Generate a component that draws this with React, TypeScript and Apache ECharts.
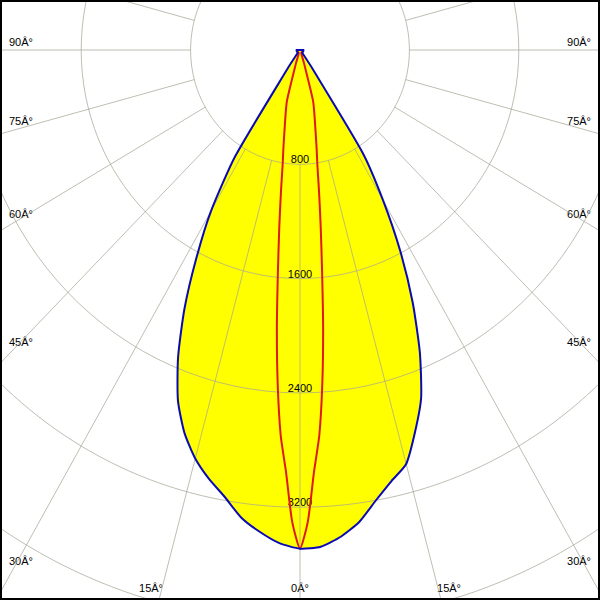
import React, { useEffect, useRef } from "react";
import * as echarts from "echarts";

// ---- data ----
// C0 / C180 plane (yellow area, blue outline), gamma in degrees (0 = straight down)
const gammaC = [0, 2.5, 5, 7.5, 10, 12.5, 15, 17.5, 20, 22.5, 25, 27.5, 30, 32.5, 35, 37.5, 40, 50, 60, 70, 80, 90];
const intensityC0 = [3490, 3480, 3420, 3330, 3200, 3090, 3000, 2800, 2590, 2290, 1950, 1590, 1215, 850, 150, 40, 25, 25, 25, 25, 25, 25];
const intensityC180 = [3490, 3455, 3385, 3300, 3175, 3075, 2960, 2810, 2610, 2330, 2000, 1640, 1300, 880, 150, 40, 25, 25, 25, 25, 25, 25];
// C90 / C270 plane (red line)
const gammaC90 = [0, 1, 2, 3, 4, 5, 6, 7, 8, 9, 10, 12.5, 15, 17.5, 20, 30, 40, 50, 60, 70, 80, 90];
const intensityC90 = [3490, 3300, 2950, 2700, 2340, 1940, 1540, 1240, 1000, 810, 700, 500, 370, 100, 30, 20, 20, 20, 20, 20, 20, 20];
const intensityC270 = [3490, 3300, 2950, 2700, 2340, 1940, 1540, 1240, 1000, 810, 700, 500, 370, 100, 30, 20, 20, 20, 20, 20, 20, 20];
// grid
const ringValues = [800, 1600, 2400, 3200, 4000, 4800];
const ringLabelValues = [800, 1600, 2400, 3200];
const spokeAngles = [0, 15, 30, 45, 60, 75, 90, 105, 120, 135, 150, 165, 180, 195, 210, 225, 240, 255, 270, 285, 300, 315, 330, 345];
const sideAngleLabels = ["90Â°", "75Â°", "60Â°", "45Â°", "30Â°"];
const bottomAngleLabels = ["15Â°", "0Â°", "15Â°"];

// ---- layout ----
const CX = 300;
const CY = 50;
const PX_PER_800_X = 109.4;
const PX_PER_800_Y = 114.3;
const SX = PX_PER_800_X / 800;
const SY = PX_PER_800_Y / 800;
const X_MIN = -CX / SX;
const X_MAX = (600 - CX) / SX;
const Y_MAX = CY / SY;
const Y_MIN = -(600 - CY) / SY;
const sideLabelY = [42, 121, 214, 342, 561];
const bottomLabelX = [151, 300, 449];
const bottomLabelY = 588;

const GRID = "rgba(165,165,150,0.72)";
const YELLOW = "#ffff00";
const BLUE = "#0a0ab4";
const RED = "#e01818";
const FONT = '11px "Liberation Sans", Arial, sans-serif';

const rad = (d: number) => (d * Math.PI) / 180;
const pt = (g: number, i: number, side: number): number[] => [side * i * Math.sin(rad(g)), -i * Math.cos(rad(g))];

function buildLoop(gam: number[], right: number[], left: number[]): number[][] {
  const pts: number[][] = [[0, 0]];
  for (let k = gam.length - 1; k >= 1; k--) pts.push(pt(gam[k], left[k], -1));
  pts.push(pt(0, right[0], 1));
  for (let k = 1; k < gam.length; k++) pts.push(pt(gam[k], right[k], 1));
  return pts;
}

const outlineC = buildLoop(gammaC, intensityC0, intensityC180);
const outlineC90 = buildLoop(gammaC90, intensityC90, intensityC270);

export default function App() {
  const ref = useRef<HTMLDivElement>(null);
  useEffect(() => {
    if (!ref.current) return;
    const chart = echarts.init(ref.current, null, { renderer: "svg" });

    const polySeries = (pts: number[][], style: any, z: number) => ({
      type: "custom",
      z,
      data: [[0, 0]],
      silent: true,
      renderItem: (params: any, api: any) => {
        if (params.dataIndex !== 0) return;
        const points = pts.map((p) => api.coord(p));
        return { type: "polygon", shape: { points, smooth: 0.2 }, style };
      },
    });

    const graphics: any[] = [];
    sideAngleLabels.forEach((t, k) => {
      graphics.push({
        type: "text", x: 9, y: sideLabelY[k],
        style: { text: t, font: FONT, fill: "#000", align: "left", textAlign: "left", verticalAlign: "middle", textVerticalAlign: "middle" },
      });
      graphics.push({
        type: "text", x: 591, y: sideLabelY[k],
        style: { text: t, font: FONT, fill: "#000", align: "right", textAlign: "right", verticalAlign: "middle", textVerticalAlign: "middle" },
      });
    });
    bottomAngleLabels.forEach((t, k) => {
      graphics.push({
        type: "text", x: bottomLabelX[k], y: bottomLabelY,
        style: { text: t, font: FONT, fill: "#000", align: "center", textAlign: "center", verticalAlign: "middle", textVerticalAlign: "middle" },
      });
    });
    graphics.push({
      type: "rect", z: 100,
      shape: { x: 1, y: 1, width: 598, height: 598 },
      style: { fill: "none", stroke: "#000", lineWidth: 2 },
    });

    chart.setOption({
      animation: false,
      backgroundColor: "#ffffff",
      grid: { left: 0, right: 0, top: 0, bottom: 0, containLabel: false },
      xAxis: { type: "value", min: X_MIN, max: X_MAX, show: false },
      yAxis: { type: "value", min: Y_MIN, max: Y_MAX, show: false },
      graphic: graphics,
      series: [
        polySeries(outlineC, { fill: YELLOW, stroke: "none" }, 1),
        {
          type: "custom",
          z: 2,
          silent: true,
          data: ringLabelValues.map((r) => [r, 0]),
          renderItem: (params: any, api: any) => {
            const r = api.value(0);
            const p = api.coord([0, -r]);
            return {
              type: "text",
              x: p[0],
              y: p[1] - 5,
              style: { text: String(r), font: FONT, fill: "#000", align: "center", textAlign: "center", verticalAlign: "middle", textVerticalAlign: "middle" },
            };
          },
        },
        {
          type: "custom",
          z: 3,
          silent: true,
          data: ringValues.map((r) => [r, 0]),
          renderItem: (params: any, api: any) => {
            const r = api.value(0);
            const c = api.coord([0, 0]);
            const ex = api.coord([r, 0]);
            const ey = api.coord([0, r]);
            return {
              type: "ellipse",
              shape: { cx: c[0], cy: c[1], rx: ex[0] - c[0], ry: c[1] - ey[1] },
              style: { fill: "none", stroke: GRID, lineWidth: 1 },
            };
          },
        },
        {
          type: "custom",
          z: 3,
          silent: true,
          data: spokeAngles.map((a) => [a, 0]),
          renderItem: (params: any, api: any) => {
            const a = api.value(0);
            const p1 = api.coord(pt(a, ringValues[0], 1));
            const p2 = api.coord(pt(a, 9000, 1));
            return {
              type: "line",
              shape: { x1: p1[0], y1: p1[1], x2: p2[0], y2: p2[1] },
              style: { stroke: GRID, lineWidth: 1 },
            };
          },
        },
        polySeries(outlineC90, { fill: "none", stroke: RED, lineWidth: 2 }, 4),
        polySeries(outlineC, { fill: "none", stroke: BLUE, lineWidth: 2 }, 5),
      ],
    });
    return () => chart.dispose();
  }, []);
  return <div ref={ref} style={{ position: "absolute", left: 0, top: 0, width: 600, height: 600 }} />;
}
